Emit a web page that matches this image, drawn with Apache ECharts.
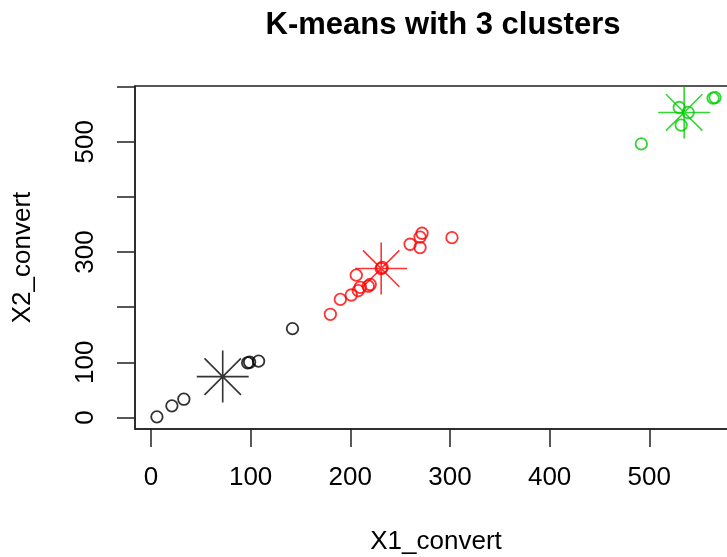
<!DOCTYPE html>
<html>
<head>
<meta charset="utf-8">
<script src="https://cdn.jsdelivr.net/npm/echarts@6/dist/echarts.min.js"></script>
<style>
  html, body { margin: 0; padding: 0; background: #fff; }
  #chart { width: 727px; height: 557px; }
</style>
</head>
<body>
<div id="chart"></div>
<script>
// cluster 1 (black)
var blackX = [6, 21, 33, 97, 99, 108, 142]
var blackY = [1, 21, 33, 99, 100, 102, 161]
// cluster 2 (red)
var redX = [180, 190, 201, 208, 206, 210, 218, 220, 231, 232, 260, 270, 270, 272, 302]
var redY = [187, 214, 222, 230, 258, 236, 238, 241, 270, 272, 314, 308, 327, 334, 326]
// cluster 3 (green)
var greenX = [492, 530, 532, 539, 564, 566]
var greenY = [496, 562, 530, 553, 579, 580]
// cluster centers
var centerX = [72, 231, 535]
var centerY = [74, 270, 553]
var clusterColors = ['#000000', '#ff0000', '#00cd00']

var xTicks = [0, 100, 200, 300, 400, 500]
var yTicks = [0, 100, 200, 300, 400, 500, 600]
var yLabels = [0, 100, 300, 500]

function pairs(xs, ys) {
    return xs.map(function (x, i) { return [x, ys[i]] })
}

var font = '"Liberation Sans", Arial, Helvetica, sans-serif'
var star = 'path://M0,-10L0,10M-10,0L10,0M-7,-7L7,7M-7,7L7,-7'

var chart = echarts.init(document.getElementById('chart'))

function pointSeries(data, color) {
    return {
        type: 'scatter',
        data: data,
        symbol: 'circle',
        symbolSize: 11.5,
        itemStyle: {
            color: 'rgba(0,0,0,0)',
            borderColor: color,
            borderWidth: 1.8
        },
        emphasis: { disabled: true },
        z: 2
    }
}

var option = {
    backgroundColor: '#fff',
    animation: false,
    title: {
        text: 'K-means with 3 clusters',
        left: 438,
        top: 4,
        textAlign: 'center',
        textStyle: {
            fontFamily: font,
            fontSize: 31,
            lineHeight: 32,
            fontWeight: 'bold',
            color: '#000'
        }
    },
    grid: {
        left: 135,
        top: 86,
        width: 602,
        height: 343,
        show: true,
        borderColor: '#222',
        borderWidth: 1.5,
        containLabel: false,
        outerBoundsMode: 'none'
    },
    xAxis: {
        type: 'value',
        min: -16,
        max: 588,
        name: 'X1_convert',
        nameLocation: 'middle',
        nameGap: 100,
        nameTextStyle: { fontFamily: font, fontSize: 26, color: '#000' },
        axisLine: { show: true, onZero: false, lineStyle: { color: '#222', width: 1.5 } },
        axisTick: {
            show: true,
            length: 18,
            customValues: xTicks,
            lineStyle: { color: '#222', width: 1.5 }
        },
        axisLabel: {
            customValues: xTicks,
            margin: 36,
            fontFamily: font,
            fontSize: 26,
            color: '#000'
        },
        splitLine: { show: false }
    },
    yAxis: {
        type: 'value',
        min: -21,
        max: 601,
        name: 'X2_convert',
        nameLocation: 'middle',
        nameGap: 99,
        nameRotate: 90,
        nameTextStyle: { fontFamily: font, fontSize: 26, color: '#000' },
        axisLine: { show: true, onZero: false, lineStyle: { color: '#222', width: 1.5 } },
        axisTick: {
            show: true,
            length: 18,
            customValues: yTicks,
            lineStyle: { color: '#222', width: 1.5 }
        },
        axisLabel: {
            customValues: yLabels,
            rotate: 90,
            margin: 36,
            fontFamily: font,
            fontSize: 26,
            color: '#000'
        },
        splitLine: { show: false }
    },
    series: [
        pointSeries(pairs(blackX, blackY), clusterColors[0]),
        pointSeries(pairs(redX, redY), clusterColors[1]),
        pointSeries(pairs(greenX, greenY), clusterColors[2]),
        {
            type: 'scatter',
            data: centerX.map(function (x, i) {
                return {
                    value: [x, centerY[i]],
                    itemStyle: { borderColor: clusterColors[i] }
                }
            }),
            symbol: star,
            symbolSize: 52,
            itemStyle: {
                color: 'rgba(0,0,0,0)',
                borderWidth: 1.6
            },
            emphasis: { disabled: true },
            z: 3
        }
    ]
}
chart.setOption(option)
</script>
</body>
</html>
